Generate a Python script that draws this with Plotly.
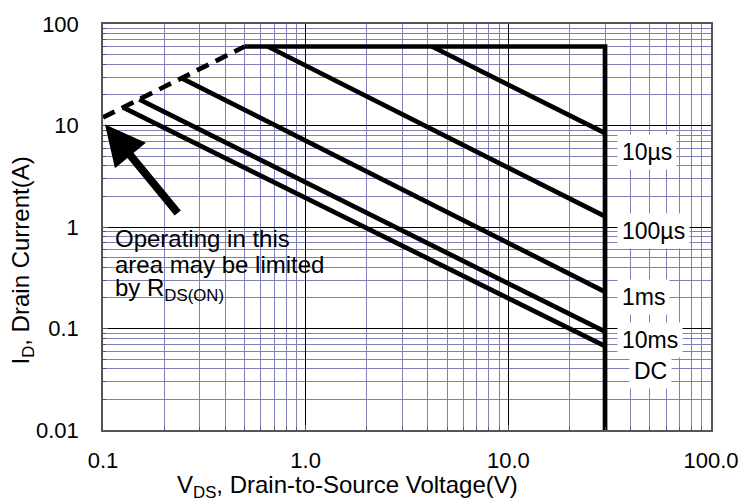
import math
import plotly.graph_objects as go

# Safe operating area data (V_DS in volts, I_D in amps)
rds_v = [0.1, 0.5]
rds_i = [12, 60]

limit_v = [0.5, 30, 30]
limit_i = [60, 60, 0.01]

us10_v = [4.2, 30]
us10_i = [60, 8.4]
us100_v = [0.65, 30]
us100_i = [60, 1.27]
ms1_v = [0.244, 30]
ms1_i = [29.3, 0.23]
ms10_v = [0.151, 30]
ms10_i = [18.1, 0.093]
dc_v = [0.1255, 30]
dc_i = [15.06, 0.067]

pulse_labels = ["10µs", "100µs", "1ms", "10ms", "DC"]
label_i = [5.18, 0.855, 0.19, 0.0715, 0.036]

x_ticks = [0.1, 1, 10, 100]
x_ticktext = ["0.1", "1.0", "10.0", "100.0"]
y_ticks = [0.01, 0.1, 1, 10, 100]
y_ticktext = ["0.01", "0.1", "1", "10", "100"]

FONT = "Liberation Sans, Arial, sans-serif"
GRID = "rgb(128,128,184)"

W, H = 751, 504
L, R, T, B = 103, 30, 14, 74
PW, PH = W - L - R, H - T - B


def px_x(p):
    return (p - L) / PW


def px_y(p):
    return (H - B - p) / PH


def minor_vals(lo, hi):
    vals = []
    d = lo
    while d < hi:
        for k in range(2, 10):
            vals.append(k * d)
        d *= 10
    return vals


fig = go.Figure()

line = dict(color="black", width=4.7)
fig.add_trace(go.Scatter(x=rds_v, y=rds_i, mode="lines",
                         line=dict(color="black", width=4.7, dash="13px,8px")))
fig.add_trace(go.Scatter(x=limit_v, y=limit_i, mode="lines", line=line))
for xs, ys in [(us10_v, us10_i), (us100_v, us100_i), (ms1_v, ms1_i),
               (ms10_v, ms10_i), (dc_v, dc_i)]:
    fig.add_trace(go.Scatter(x=xs, y=ys, mode="lines", line=line))

# White panel behind the R_DS(on) note
fig.add_shape(type="rect", xref="paper", yref="paper",
              x0=0, x1=px_x(332), y0=px_y(332), y1=px_y(223),
              fillcolor="white", line=dict(width=0), layer="between")

annotations = []
# Pulse-width labels next to the V_DS limit
label_x = 34.4
for txt, yi in zip(pulse_labels, label_i):
    if txt == "DC":
        ann = dict(x=math.log10(50.3), xanchor="center")
    else:
        ann = dict(x=math.log10(label_x), xanchor="left")
    ann.update(y=math.log10(yi), yanchor="middle", xref="x", yref="y",
               text=txt, showarrow=False, bgcolor="white", borderpad=4,
               yshift=3, font=dict(family=FONT, size=23, color="black"))
    annotations.append(ann)

note_lines = ["Operating in this", "area may be limited",
              "by R<sub>DS(ON)</sub>"]
for txt, yp in zip(note_lines, [234, 260.5, 286]):
    annotations.append(dict(x=px_x(113), y=px_y(yp), xref="paper", yref="paper",
                            xanchor="left", yanchor="middle", text=txt,
                            showarrow=False,
                            font=dict(family=FONT, size=24, color="black")))

# Arrow pointing at the R_DS(on) line
annotations.append(dict(x=math.log10(0.1023), y=math.log10(10.22), xref="x", yref="y",
                        ax=74, ay=90, text="", showarrow=True, arrowhead=2,
                        arrowsize=1, arrowwidth=8, arrowcolor="black", standoff=0))

# Axis titles
annotations.append(dict(x=px_x(352), y=px_y(488), xref="paper", yref="paper",
                        xanchor="center", yanchor="middle", showarrow=False,
                        text="V<sub>DS</sub>, Drain-to-Source Voltage(V)",
                        font=dict(family=FONT, size=24, color="black")))
annotations.append(dict(x=px_x(21), y=px_y(256), xref="paper", yref="paper",
                        xanchor="center", yanchor="middle", showarrow=False,
                        textangle=-90, text="I<sub>D</sub>, Drain Current(A)",
                        font=dict(family=FONT, size=24, color="black")))

axis_common = dict(
    type="log", showline=True, mirror=True, linecolor="#555", linewidth=1.5,
    showgrid=True, gridcolor="black", gridwidth=1, zeroline=False,
    ticks="inside", ticklen=5, tickcolor="#555",
    tickfont=dict(family=FONT, size=22, color="black"),
)

fig.update_xaxes(range=[-1, 2], tickmode="array", tickvals=x_ticks,
                 ticktext=x_ticktext, ticklabelstandoff=10,
                 minor=dict(tickmode="array", tickvals=minor_vals(0.1, 100),
                            showgrid=True, gridcolor=GRID, gridwidth=1,
                            ticks="inside", ticklen=3, tickcolor="#555"),
                 **axis_common)
fig.update_yaxes(range=[-2, 2], tickmode="array", tickvals=y_ticks,
                 ticktext=y_ticktext, ticklabelstandoff=18,
                 minor=dict(tickmode="array", tickvals=minor_vals(0.01, 100),
                            showgrid=True, gridcolor=GRID, gridwidth=1,
                            ticks="inside", ticklen=3, tickcolor="#555"),
                 **axis_common)

fig.update_layout(
    width=W, height=H, autosize=False,
    margin=dict(l=L, r=R, t=T, b=B, pad=0),
    paper_bgcolor="white", plot_bgcolor="white",
    showlegend=False, annotations=annotations,
    font=dict(family=FONT, color="black"),
)

fig.write_html("out.html")
